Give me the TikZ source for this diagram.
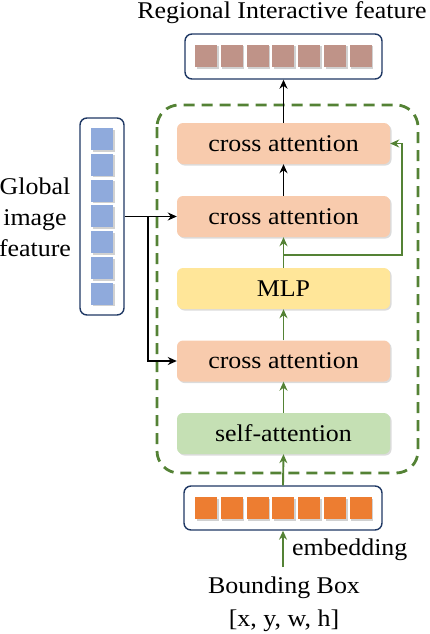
\documentclass[tikz,border=0pt]{standalone}
\usepackage{fontspec}
\setmainfont{Liberation Serif}[FakeStretch=1.08]
\usetikzlibrary{shadows,arrows.meta}
\definecolor{caFill}{HTML}{F8CBAD}
\definecolor{mlpFill}{HTML}{FFE699}
\definecolor{saFill}{HTML}{C5E0B4}
\definecolor{gGreen}{HTML}{548235}
\definecolor{navy}{HTML}{1F3864}
\definecolor{rSq}{HTML}{BF9388}
\definecolor{bSq}{HTML}{8FAADC}
\definecolor{oSq}{HTML}{ED7D31}
\tikzset{
  txt/.style={font=\fontsize{24}{31}\selectfont, inner sep=0pt},
  block/.style={rounded corners=6pt, minimum width=213pt, minimum height=41pt, inner sep=0pt,
    font=\fontsize{24}{29}\selectfont,
    drop shadow={shadow xshift=1.5pt, shadow yshift=-1.5pt, opacity=0.35, fill=black!40}},
  holder/.style={draw=navy, line width=1.4pt, rounded corners=7pt, fill=white, inner sep=0pt},
  sq/.style={minimum width=22pt, minimum height=22pt, inner sep=0pt,
    drop shadow={shadow xshift=1.5pt, shadow yshift=-1.5pt, opacity=0.4, fill=black!45}},
  blk/.style={line width=1.9pt, -{Stealth[length=9pt,width=8pt]}},
  grn/.style={line width=1.9pt, draw=gGreen, -{Stealth[length=9pt,width=8pt]}},
}
\begin{document}
\begin{tikzpicture}[x=1pt,y=-1pt]
\useasboundingbox (0,0) rectangle (430,634);
% dashed frame
\draw[gGreen, line width=2.8pt, dash pattern=on 11pt off 7pt, rounded corners=22pt] (157,105) rectangle (418,473);
% holders
\node[holder, minimum width=197pt, minimum height=45pt] (top) at (283.5,56.5) {};
\node[holder, minimum width=198pt, minimum height=44pt] (bot) at (283,508) {};
\node[holder, minimum width=44pt, minimum height=197pt] (gbox) at (102,216.5) {};
\foreach \i in {0,...,6} {
  \node[sq, fill=rSq] (t\i) at ({206+25.8*\i},56) {};
  \node[sq, fill=oSq] (b\i) at ({206+25.8*\i},508) {};
  \node[sq, fill=bSq] (g\i) at (102,{139+25.8*\i}) {};
}
% blocks
\node[block, fill=caFill] (ca1) at (283.5,143.5) {cross attention};
\node[block, fill=caFill] (ca2) at (283.5,216.5) {cross attention};
\node[block, fill=mlpFill] (mlp) at (283.5,288.5) {MLP};
\node[block, fill=caFill] (ca3) at (283.5,361) {cross attention};
\node[block, fill=saFill] (sa) at (283.5,433.5) {self-attention};
% texts
\node[txt] (title) at (282,13) {Regional Interactive feature};
\node[txt, align=center] (glob) at (35,217) {Global\\image\\feature};
\node[txt, anchor=west] (emb) at (292,550) {embedding};
\node[txt] (bb) at (284,588) {Bounding Box};
\node[txt] (xywh) at (284,621) {[x, y, w, h]};
% connectors
\draw[blk] (ca1.north) -- (top.south);
\draw[blk] (ca2.north) -- (ca1.south);
\coordinate (split) at (148,216.5);
\draw[blk] (gbox.east) -- (ca2.west);
\draw[blk] (split) |- (ca3.west);
\coordinate (gsplit) at (283.5,255);
\draw[grn] (mlp.north) -- (ca2.south);
\draw[grn] (gsplit) -| (402,143.5) -- (ca1.east);
\draw[grn] (ca3.north) -- (mlp.south);
\draw[grn] (sa.north) -- (ca3.south);
\draw[grn] (bot.north) -- (sa.south);
\coordinate (embstart) at (283,567);
\draw[grn] (embstart) -- (bot.south);
\end{tikzpicture}
\end{document}
